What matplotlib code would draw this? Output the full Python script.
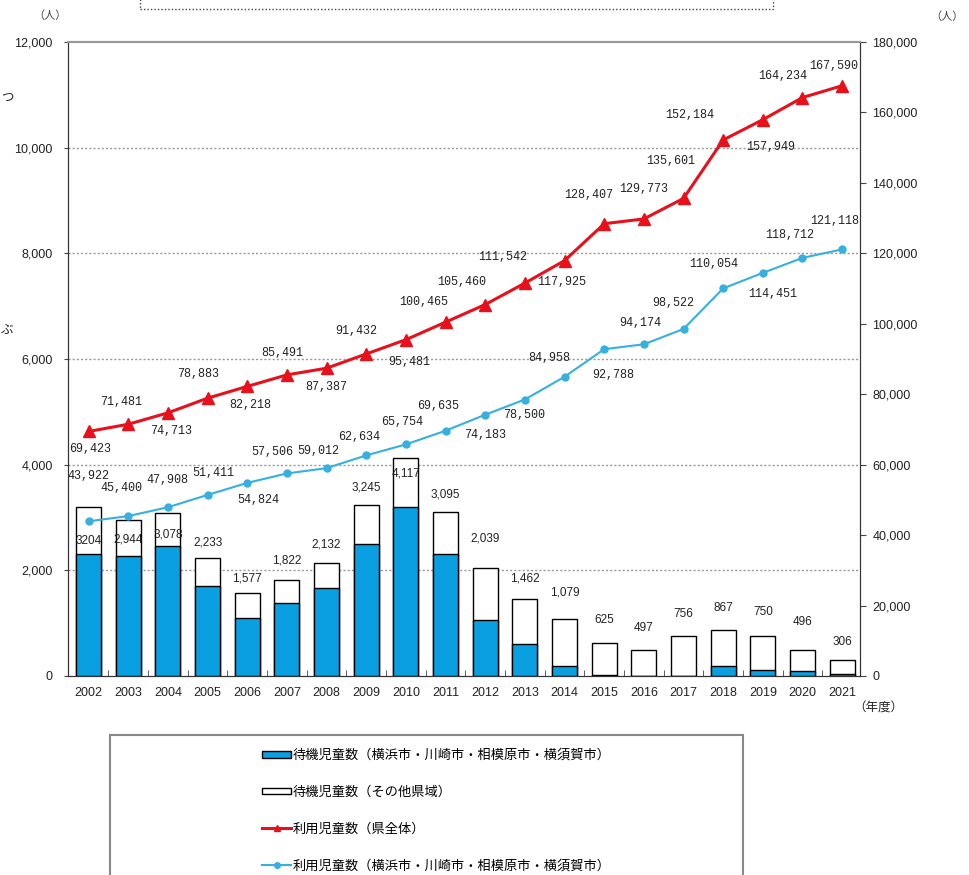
import matplotlib
matplotlib.use("Agg")
import matplotlib.pyplot as plt
from matplotlib.patches import Rectangle, Patch
from matplotlib.lines import Line2D

plt.rcParams['font.family'] = ['Liberation Sans', 'Noto Sans CJK JP', 'DejaVu Sans']

# ---------------- data ----------------
years = ["2002", "2003", "2004", "2005", "2006", "2007", "2008", "2009", "2010", "2011",
         "2012", "2013", "2014", "2015", "2016", "2017", "2018", "2019", "2020", "2021"]
waiting_total = [3204, 2944, 3078, 2233, 1577, 1822, 2132, 3245, 4117, 3095,
                 2039, 1462, 1079, 625, 497, 756, 867, 750, 496, 306]
waiting_major = [2300, 2270, 2460, 1710, 1100, 1380, 1660, 2490, 3190, 2300,
                 1060, 600, 190, 10, 8, 0, 190, 120, 88, 44]
users_pref = [69423, 71481, 74713, 78883, 82218, 85491, 87387, 91432, 95481, 100465,
              105460, 111542, 117925, 128407, 129773, 135601, 152184, 157949, 164234, 167590]
users_major = [43922, 45400, 47908, 51411, 54824, 57506, 59012, 62634, 65754, 69635,
               74183, 78500, 84958, 92788, 94174, 98522, 110054, 114451, 118712, 121118]
left_ticks = [0, 2000, 4000, 6000, 8000, 10000, 12000]
right_ticks = [0, 20000, 40000, 60000, 80000, 100000, 120000, 140000, 160000, 180000]
legend_labels = ["待機児童数（横浜市・川崎市・相模原市・横須賀市）",
                 "待機児童数（その他県域）",
                 "利用児童数（県全体）",
                 "利用児童数（横浜市・川崎市・相模原市・横須賀市）"]

bar_labels = ["3204"] + [f"{v:,}" for v in waiting_total[1:]]

# label offsets in pixels (dx, dy; dy positive = down)
bar_off = [34, 19, 21, -16, -14, -19, -19, -17, 15, -18,
           -30, -20, -26, -23, -22, -22, -22, -24, -28, -18]
red_off = [(2, 18), (-7, -22), (3, 18), (-10, -24), (3, 19), (-5, -22), (0, 19), (-10, -23),
           (3, 22), (-22, -20), (-24, -23), (-22, -26), (-3, 21), (-16, -29), (0, -30),
           (-13, -37), (-33, -25), (8, 27), (-20, -22), (-8, -20)]
blue_off = [(0, -45), (-7, -28), (-1, -27), (6, -22), (11, 17), (-15, -21), (-8, -17),
            (-7, -18), (-4, -22), (-7, -25), (0, 20), (-1, 15), (-15, -19), (9, 26),
            (-4, -21), (-10, -26), (-9, -24), (10, 21), (-13, -23), (-7, -28)]

W, H = 969, 875
fig = plt.figure(figsize=(W / 100, H / 100), dpi=100)
fig.patch.set_facecolor("white")

x0, x1, yt, yb = 68, 860, 42, 676
ax = fig.add_axes([x0 / W, 1 - yb / H, (x1 - x0) / W, (yb - yt) / H])
ax2 = ax.twinx()

xs = list(range(len(years)))
BLUE = "#0A9FE0"
RED = "#E8101A"
CYAN = "#35B0E0"

# bars
b_other = ax.bar(xs, waiting_total, width=0.63, color="white", edgecolor="black",
                 linewidth=1.0, zorder=3)
b_major = ax.bar(xs, waiting_major, width=0.63, color=BLUE, edgecolor="black",
                 linewidth=1.0, zorder=4)

for i, v in enumerate(waiting_total):
    ax.annotate(bar_labels[i], (i, v), xytext=(0, -bar_off[i]), textcoords="offset pixels",
                ha="center", va="center", fontsize=8.5, color="#222222", zorder=6)

ax.set_xlim(-0.52, 19.45)
ax.set_ylim(0, 12000)
ax.set_yticks(left_ticks)
ax.set_yticklabels([f"{t:,}" for t in left_ticks], fontsize=9, color="#222222")
ax.set_xticks(xs)
ax.set_xticklabels(years, fontsize=9, color="#222222")
ax.tick_params(axis="x", length=0, pad=8)
ax.set_xticks([i + 0.5 for i in range(len(years) - 1)], minor=True)
ax.tick_params(axis="x", which="minor", direction="in", length=4, color="#444444")
ax.tick_params(axis="y", direction="out", length=3, pad=8, color="#444444")
for t in left_ticks[1:-1]:
    ax.axhline(t, color="#999999", linestyle=(0, (1.5, 1.5)), linewidth=1.0, zorder=1)

for s in ["left", "bottom", "right"]:
    ax.spines[s].set_color("#333333")
    ax2.spines[s].set_color("#333333")
ax.spines["top"].set_color("#999999")
ax2.spines["top"].set_color("#999999")
ax.spines["top"].set_linewidth(1.5)
ax2.spines["top"].set_linewidth(1.5)

# lines
ax2.plot(xs, users_pref, color=RED, linewidth=2.2, marker="^", markersize=9,
         markeredgecolor=RED, zorder=5)
ax2.plot(xs, users_major, color=CYAN, linewidth=1.5, marker="o", markersize=5,
         markeredgecolor=CYAN, zorder=5)
ax2.set_ylim(0, 180000)
ax2.set_yticks(right_ticks)
ax2.set_yticklabels([f"{t:,}" for t in right_ticks], fontsize=9, color="#222222")
ax2.tick_params(axis="y", direction="out", length=4, pad=5, color="#444444")

for i, v in enumerate(users_pref):
    dx, dy = red_off[i]
    ax2.annotate(f"{v:,}", (i, v), xytext=(dx, -dy), textcoords="offset pixels",
                 ha="center", va="center", fontsize=8.5, family="Liberation Mono",
                 color="#222222", zorder=7)
for i, v in enumerate(users_major):
    dx, dy = blue_off[i]
    ax2.annotate(f"{v:,}", (i, v), xytext=(dx, -dy), textcoords="offset pixels",
                 ha="center", va="center", fontsize=8.5, family="Liberation Mono",
                 color="#222222", zorder=7)

# axis unit labels
fig.text(50 / W, 1 - 16 / H, "（人）", ha="center", va="center", fontsize=8,
         family="Noto Sans CJK JP", color="#444444")
fig.text(947 / W, 1 - 17 / H, "（人）", ha="center", va="center", fontsize=8,
         family="Noto Sans CJK JP", color="#444444")
fig.text(878 / W, 1 - 708 / H, "（年度）", ha="center", va="center", fontsize=9,
         family="Noto Sans CJK JP", color="#222222")

# fragments of surrounding text at the left edge
fig.text(1 / W, 1 - 97 / H, "つ", ha="left", va="center", fontsize=9,
         family="Noto Sans CJK JP", color="#222222")
fig.text(1 / W, 1 - 330 / H, "ぶ", ha="left", va="center", fontsize=9,
         family="Noto Sans CJK JP", color="#222222")

# dotted box at top
fig.patches.append(Rectangle((140 / W, 1 - 9 / H), (773 - 140) / W, 0.05,
                             transform=fig.transFigure, fill=False,
                             edgecolor="#444444", linestyle=(0, (1, 1.5)), linewidth=1.0))

# legend frame
fig.patches.append(Rectangle((110 / W, -0.05), (743 - 110) / W, (1 - 735 / H) + 0.05,
                             transform=fig.transFigure, fill=False,
                             edgecolor="#888888", linewidth=1.5))

handles = [Patch(facecolor=BLUE, edgecolor="black", linewidth=1.0),
           Patch(facecolor="white", edgecolor="black", linewidth=1.0),
           Line2D([], [], color=RED, linewidth=2.2, marker="^", markersize=5),
           Line2D([], [], color=CYAN, linewidth=1.5, marker="o", markersize=4)]
fig.legend(handles, legend_labels, loc="upper left",
           bbox_to_anchor=(262 / W, 1 - 749 / H), frameon=False,
           prop={"family": "Noto Sans CJK JP", "size": 9.5},
           handlelength=2.2, handleheight=0.4, handletextpad=0.15,
           labelspacing=1.8, borderpad=0, borderaxespad=0)

fig.savefig("out.png", dpi=100, facecolor="white")
